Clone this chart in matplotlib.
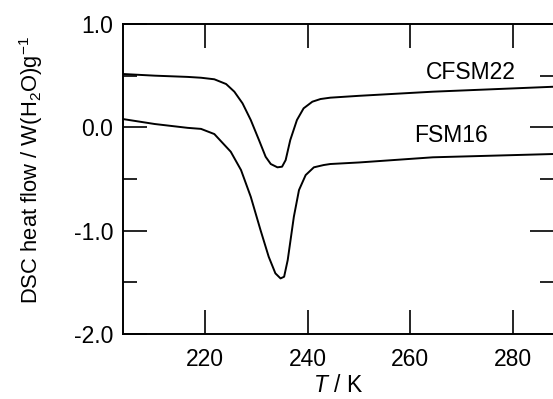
import matplotlib
matplotlib.use("Agg")
import matplotlib.pyplot as plt
from matplotlib.ticker import MultipleLocator, FormatStrFormatter

plt.rcParams['font.family'] = ['Liberation Sans', 'DejaVu Sans']
plt.rcParams['mathtext.fontset'] = 'custom'
plt.rcParams['mathtext.rm'] = 'Liberation Sans'
plt.rcParams['mathtext.it'] = 'Liberation Sans:italic'

# CFSM22
t_cfsm = [204.0, 210.2, 216.6, 219.2, 221.8, 224.1, 225.7, 227.3, 228.9, 230.5,
          231.8, 232.8, 234.1, 235.0, 235.7, 236.6, 237.9, 239.2, 240.9, 242.5,
          244.4, 250.0, 264.4, 288.0]
v_cfsm = [0.516, 0.50, 0.488, 0.480, 0.465, 0.419, 0.345, 0.232, 0.071, -0.123,
          -0.285, -0.355, -0.387, -0.381, -0.317, -0.123, 0.071, 0.184, 0.248, 0.274,
          0.287, 0.305, 0.345, 0.393]

# FSM16
t_fsm = [204.0, 210.2, 216.6, 219.2, 221.8, 224.1, 225.0, 226.4, 227.0, 228.9,
         230.8, 232.4, 233.7, 234.7, 235.4, 236.1, 237.3, 238.3, 239.6, 241.2,
         243.1, 244.4, 250.0, 264.4, 288.0]
v_fsm = [0.08, 0.032, -0.005, -0.015, -0.065, -0.188, -0.236, -0.36, -0.413, -0.672,
         -0.994, -1.253, -1.413, -1.462, -1.446, -1.285, -0.865, -0.607, -0.462, -0.387,
         -0.365, -0.355, -0.340, -0.29, -0.258]

labels = ["CFSM22", "FSM16"]
label_pos = [(271.7, 0.535), (267.9, -0.08)]

fig = plt.figure(figsize=(5.53, 3.99), dpi=100)
ax = fig.add_axes([123/553, 1 - 334/399, (554 - 123)/553, (334 - 24)/399])
ax.plot(t_cfsm, v_cfsm, color='black', lw=1.4)
ax.plot(t_fsm, v_fsm, color='black', lw=1.4)
for lab, (x, y) in zip(labels, label_pos):
    ax.text(x, y, lab, ha='center', va='center', fontsize=16.5)

ax.set_xlim(204, 288)
ax.set_ylim(-2.0, 1.0)
ax.xaxis.set_major_locator(MultipleLocator(20))
ax.yaxis.set_major_locator(MultipleLocator(1.0))
ax.yaxis.set_minor_locator(MultipleLocator(0.5))
ax.yaxis.set_major_formatter(FormatStrFormatter('%.1f'))
ax.tick_params(axis='both', which='major', direction='in', length=17, width=1.2,
               top=True, right=True, labelsize=16.5)
ax.tick_params(axis='x', which='major', pad=10)
ax.tick_params(axis='y', which='major', pad=7)
ax.tick_params(axis='y', which='minor', direction='in', length=10, width=1.2, right=True)
for s in ax.spines.values():
    s.set_linewidth(1.4)
ax.set_xlabel('$T$ / K', fontsize=16.5, labelpad=2.5)
ax.set_ylabel('DSC heat flow / W(H$_2$O)g$^{-1}$', fontsize=15.8)
ax.yaxis.set_label_coords(-0.181, 0.529)

fig.savefig('out.png', dpi=100)
